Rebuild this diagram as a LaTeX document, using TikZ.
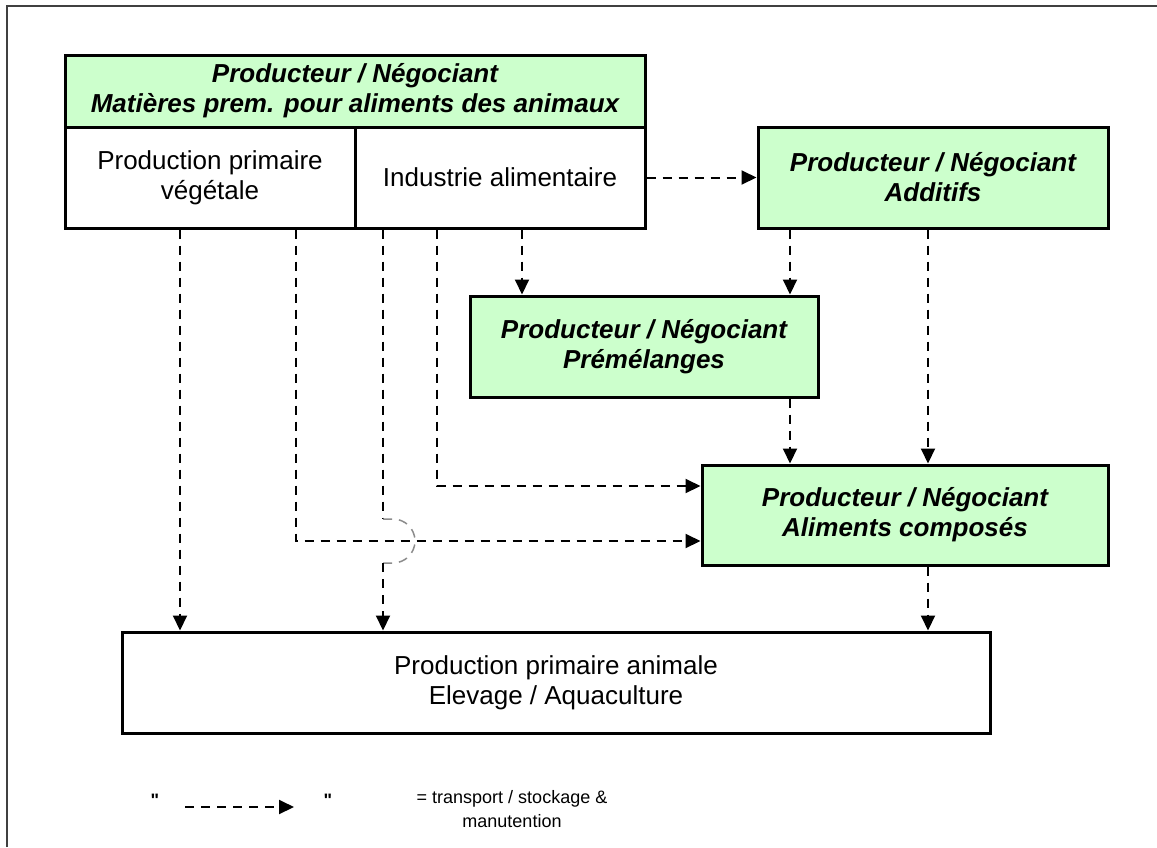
\documentclass[tikz,border=0pt]{standalone}
\usepackage{fontspec}
\setmainfont{Liberation Sans}
\newfontfamily\plainfont{Liberation Sans}
\usetikzlibrary{arrows.meta}
\definecolor{boxgreen}{HTML}{CCFFCC}

\begin{document}
\begin{tikzpicture}[x=1pt,y=-1pt]
\tikzset{
  box/.style={draw=black, line width=3pt, rectangle, inner sep=0pt, align=center,
    font=\fontsize{26}{30}\selectfont},
  greenbox/.style={box, fill=boxgreen, font=\fontsize{26}{30}\selectfont\bfseries\itshape},
  flow/.style={draw=black, line width=2pt, dash pattern=on 9pt off 7pt,
    -{Triangle[length=15pt,width=14pt]}},
  flowline/.style={draw=black, line width=2pt, dash pattern=on 9pt off 7pt}
}
\useasboundingbox (0,0) rectangle (1157,847);
% frame
\draw [line width=2pt, black!75] (7,847) -- (7,6) -- (1157,6);
% boxes
\node [greenbox, minimum width=580pt, minimum height=72pt] (header) at (355,91)
  {Producteur / Négociant\\Matières prem. pour aliments des animaux};
\node [box, minimum width=290pt, minimum height=101pt] (vegetale) at (210,177.5)
  {Production primaire\\végétale};
\node [box, minimum width=290pt, minimum height=101pt] (industrie) at (500,177.5)
  {Industrie alimentaire};
\node [greenbox, minimum width=350pt, minimum height=101pt] (additifs) at (933,177.5)
  {Producteur / Négociant\\Additifs};
\node [greenbox, minimum width=348pt, minimum height=101pt] (premel) at (644,346.5)
  {Producteur / Négociant\\Prémélanges};
\node [greenbox, minimum width=406pt, minimum height=100pt] (composes) at (905,515)
  {Producteur / Négociant\\Aliments composés};
\node [box, minimum width=868pt, minimum height=101pt] (animale) at (556,682.5)
  {Production primaire animale\\Elevage / Aquaculture};
% connectors
\draw [flow] (industrie.east) -- (additifs.west);
\draw [flow] (vegetale.south -| 180,0) -- (animale.north -| 180,0);
\draw [flow] (vegetale.south -| 296,0) -- (296,541) -- (composes.west |- 0,541);
\draw [flowline] (industrie.south -| 383,0) -- (383,519);
\draw [line width=1.5pt, black!45, dash pattern=on 9pt off 7pt]
  (383,519) -- (393,519) arc (-90:90:22) -- (383,563);
\draw [flow] (383,563) -- (animale.north -| 383,0);
\draw [flow] (industrie.south -| 437,0) -- (437,486) -- (composes.west |- 0,486);
\draw [flow] (industrie.south -| 522,0) -- (premel.north -| 522,0);
\draw [flow] (additifs.south -| 790,0) -- (premel.north -| 790,0);
\draw [flow] (premel.south -| 790,0) -- (composes.north -| 790,0);
\draw [flow] (additifs.south -| 928,0) -- (composes.north -| 928,0);
\draw [flow] (composes.south -| 928,0) -- (animale.north -| 928,0);
% legend
\node [font=\plainfont\fontsize{18}{22}\selectfont\bfseries] (quoteleft) at (155,800) {"};
\node [font=\plainfont\fontsize{18}{22}\selectfont\bfseries] (quoteright) at (328,800) {"};
\coordinate (legstart) at (185,807);
\coordinate (legend) at (294,807);
\draw [flow] (legstart) -- (legend);
\node [align=center, font=\fontsize{18}{24}\selectfont] (legtext) at (512,809)
  {= transport / stockage \&\\manutention};
\end{tikzpicture}
\end{document}
